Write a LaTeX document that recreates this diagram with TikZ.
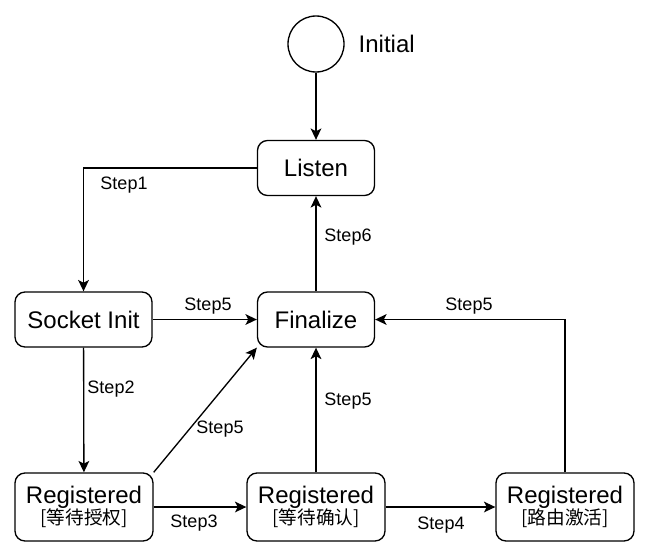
\documentclass[tikz,border=0pt]{standalone}
\usepackage{fontspec}
\setmainfont{Liberation Sans}
\newfontfamily\cjk{Noto Sans CJK SC}
\usetikzlibrary{arrows.meta}

\tikzset{
    state/.style={draw=black, fill=white, rounded corners=7.5pt, inner sep=0pt,
        minimum width=87.75pt, minimum height=41.25pt, font=\fontsize{18}{21}\selectfont},
    regstate/.style={state, minimum width=103.5pt, minimum height=51pt, align=center,
        font=\fontsize{18}{20}\selectfont},
    startnode/.style={draw=black, circle, inner sep=0pt, minimum size=42pt},
    steplbl/.style={inner sep=0pt, font=\fontsize{13.5}{16}\selectfont},
    flow/.style={->},
}
\newcommand{\waitnote}[1]{{\cjk\fontsize{14}{16}\selectfont[#1]}}

\begin{document}
\begin{tikzpicture}[x=0.75pt, y=-0.75pt, line width=1pt, >={Stealth[length=8.5pt, width=8pt, inset=2pt]}]
    \useasboundingbox (0,0) rectangle (645,554);

    % states
    \node[startnode] (init) at (316,44) {};
    \node[anchor=west, inner sep=0pt, font=\fontsize{18}{21}\selectfont] (initlbl) at (358,44) {Initial};
    \node[state] (listen) at (316,168) {Listen};
    \node[state, minimum width=102.75pt] (sockinit) at (83.5,319.5) {Socket Init};
    \node[state] (final) at (316,319.5) {Finalize};
    \node[regstate] (regauth) at (84,507) {Registered\\[-4pt]\waitnote{等待授权}};
    \node[regstate] (regconf) at (316,507) {Registered\\[-4pt]\waitnote{等待确认}};
    \node[regstate] (regroute) at (565,507) {Registered\\[-4pt]\waitnote{路由激活}};

    % transitions
    \draw[flow] (init) -- (listen);
    \draw[flow] (listen.west) -| (sockinit.north);
    \draw[flow] (sockinit) -- (final);
    \draw[flow] (final) -- (listen);
    \draw[flow] (sockinit) -- (regauth);
    \draw[flow] (regauth.north east) -- (final.south west);
    \draw[flow] (regconf) -- (final);
    \draw[flow] (regroute.north) |- (final.east);
    \draw[flow] (regauth) -- (regconf);
    \draw[flow] (regconf) -- (regroute);

    % labels
    \node[steplbl] (lbl1) at (124,185) {Step1};
    \node[steplbl] (lbl2) at (111,389) {Step2};
    \node[steplbl] (lbl3) at (194,523) {Step3};
    \node[steplbl] (lbl4) at (441,525) {Step4};
    \node[steplbl] (lbl5a) at (208,306) {Step5};
    \node[steplbl] (lbl5b) at (220,429) {Step5};
    \node[steplbl] (lbl5c) at (348,401) {Step5};
    \node[steplbl] (lbl5d) at (469,306) {Step5};
    \node[steplbl] (lbl6) at (348,237) {Step6};
\end{tikzpicture}
\end{document}
